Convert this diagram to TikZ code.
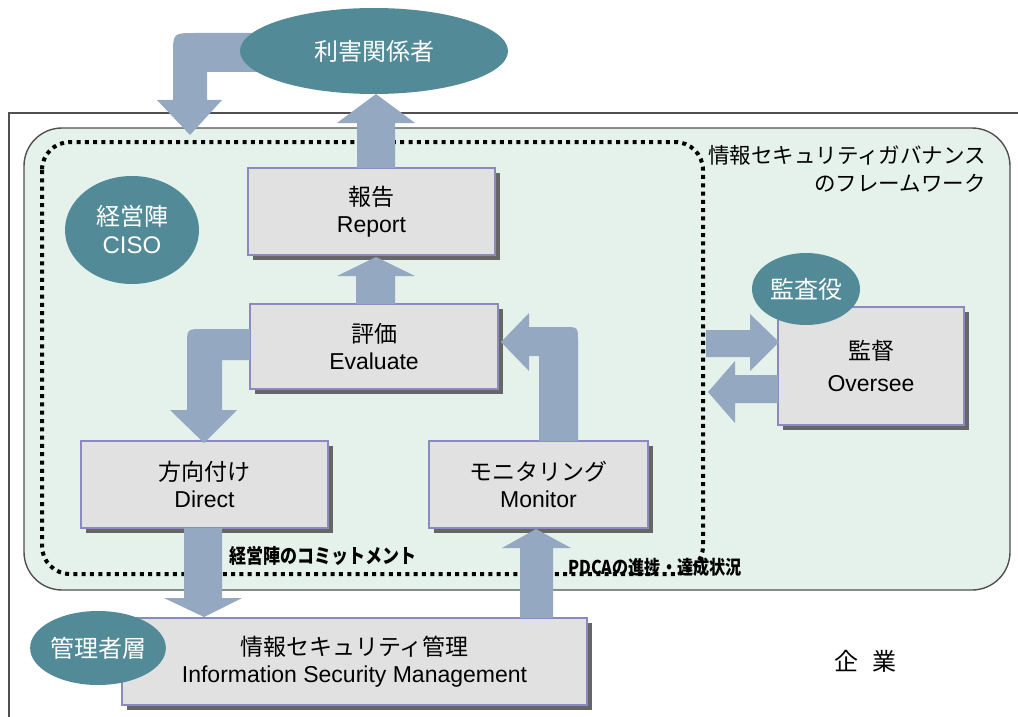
\documentclass[tikz,border=0pt]{standalone}
\usepackage{fontspec}
\setmainfont{Liberation Sans}
\newfontfamily\cjk{Noto Sans CJK JP}
\newfontfamily\cjkcond[FakeStretch=0.85]{Noto Sans CJK JP}
\usetikzlibrary{shapes.geometric,shadows}
\definecolor{tealc}{RGB}{82,139,151}
\definecolor{arrowc}{RGB}{149,168,194}
\definecolor{boxfill}{RGB}{225,225,225}
\definecolor{boxline}{RGB}{138,138,192}
\definecolor{shadowc}{RGB}{102,102,102}
\definecolor{greenfill}{RGB}{228,242,235}
\definecolor{framec}{RGB}{80,80,80}
\tikzset{
  gbox/.style={draw=boxline, line width=1.2pt, fill=boxfill, inner sep=0pt, align=center,
    font=\fontsize{23}{27}\selectfont,
    drop shadow={shadow xshift=5pt, shadow yshift=-5pt, fill=shadowc, opacity=1}},
  tealell/.style={ellipse, fill=tealc, draw=none, inner sep=0pt, text=white, align=center,
    font=\fontsize{24}{28}\selectfont},
  blockarrow/.style={fill=arrowc, draw=none},
  boldlabel/.style={font=\cjkcond\bfseries\fontsize{20}{22}\selectfont, inner sep=0pt}
}
\begin{document}
\begin{tikzpicture}[x=1pt,y=-1pt]
\useasboundingbox (0,0) rectangle (1018,717);
% enterprise frame
\draw[framec, line width=1.3pt] (9,750) -- (9,113) -- (1040,113);
% governance framework
\draw[framec, line width=1.4pt, fill=greenfill, rounded corners=38pt] (24,128) rectangle (1010,590);
% dotted management boundary
\draw[black, line width=4pt, dash pattern=on 4pt off 4.3pt, rounded corners=28pt] (42,142) rectangle (703,574);

\node[anchor=east, align=right, font=\cjk\fontsize{21.5}{28}\selectfont, inner sep=0pt] (fwlabel) at (986,169)
  {情報セキュリティガバナンス\\のフレームワーク};

% boxes
\node[gbox, minimum width=247pt, minimum height=87pt] (report) at (371.5,211.5) {{\cjk 報告}\\Report};
\node[gbox, minimum width=248pt, minimum height=85pt] (eval) at (374,346.5) {{\cjk 評価}\\Evaluate};
\node[gbox, minimum width=247pt, minimum height=87pt] (direct) at (204.5,484.5) {{\cjk 方向付け}\\Direct};
\node[gbox, minimum width=219pt, minimum height=87pt] (monitor) at (538.5,484.5) {{\cjk モニタリング}\\Monitor};
\node[gbox, minimum width=186pt, minimum height=118pt, font=\fontsize{23}{32}\selectfont] (oversee) at (871,366) {{\cjk 監督}\\Oversee};
\node[gbox, minimum width=465pt, minimum height=87pt] (ism) at (354.5,661.5) {{\cjk 情報セキュリティ管理}\\Information Security Management};

% block arrows
% stakeholders -> enterprise
\fill[blockarrow] (300,33) -- (195,33) .. controls (173,33) .. (173,55) -- (173,100) -- (157,100) -- (190,135) -- (222,100) -- (207,100) -- (207,72) -- (300,72) -- cycle;
% report -> stakeholders
\fill[blockarrow] (357,168) -- (357,123) -- (337,123) -- (376,94) -- (415,123) -- (395,123) -- (395,168) -- cycle;
% evaluate -> report
\fill[blockarrow] (356,304) -- (356,276) -- (337,276) -- (376,257) -- (415,276) -- (395,276) -- (395,304) -- cycle;
% evaluate -> direct
\fill[blockarrow] (250,329) -- (203,329) .. controls (187,329) .. (187,345) -- (187,410) -- (170,410) -- (204,443) -- (237,410) -- (222,410) -- (222,360) -- (250,360) -- cycle;
% monitor -> evaluate
\fill[blockarrow] (539,441) -- (539,356) -- (529,356) -- (529,371) -- (501,342) -- (529,313) -- (529,327) -- (564,327) .. controls (578,327) .. (578,341) -- (578,441) -- cycle;
% direct -> ISM
\fill[blockarrow] (184,528) -- (184,598) -- (164,598) -- (204,617) -- (242,598) -- (222,598) -- (222,528) -- cycle;
% ISM -> monitor
\fill[blockarrow] (520,618) -- (520,548) -- (502,548) -- (536,529) -- (571,548) -- (553,548) -- (553,618) -- cycle;
% framework <-> oversee
\fill[blockarrow] (706,330) -- (750,330) -- (750,314) -- (779,342) -- (750,371) -- (750,357) -- (706,357) -- cycle;
\fill[blockarrow] (778,375) -- (735,375) -- (735,361) -- (708,392) -- (735,423) -- (735,403) -- (778,403) -- cycle;

% ellipses
\node[tealell, minimum width=268pt, minimum height=86pt] (stake) at (374,51) {\cjk 利害関係者};
\node[tealell, minimum width=134pt, minimum height=108pt] (ciso) at (132,230) {{\cjk 経営陣}\\CISO};
\node[tealell, minimum width=108pt, minimum height=72pt] (auditor) at (806,289) {\cjk 監査役};
\node[tealell, minimum width=110pt, minimum height=74pt] (mgr) at (98,648) {\cjk 管理者層};

% labels
\node[boldlabel] (commit) at (323,556) {経営陣のコミットメント};
\node[boldlabel, font=\cjkcond\bfseries\fontsize{19}{22}\selectfont] (pdca) at (655,567) {PDCAの進捗・達成状況};
\node[font=\cjk\fontsize{24}{28}\selectfont, inner sep=0pt] (corp) at (865,661) {企\hspace{14pt}業};
\end{tikzpicture}
\end{document}
